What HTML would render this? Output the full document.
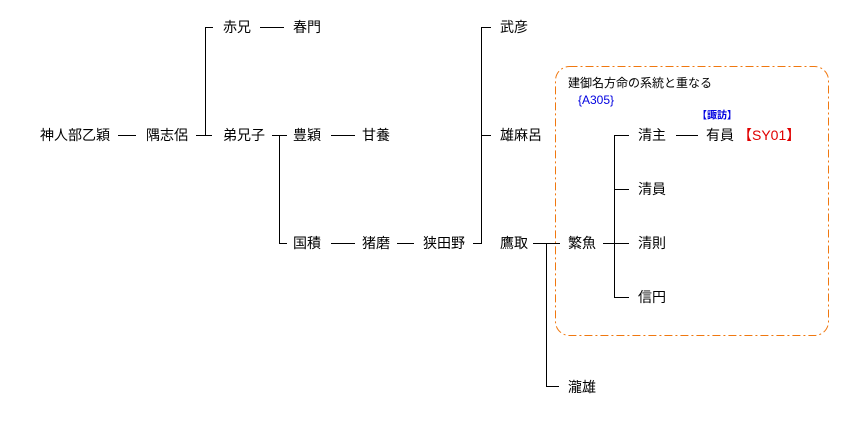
<!DOCTYPE html>
<html><head><meta charset="utf-8"><style>
html,body{margin:0;padding:0;background:#fff;width:848px;height:432px;overflow:hidden}
svg text{font-family:"Liberation Sans","Noto Sans CJK JP",sans-serif;font-size:14px;fill:#000;dominant-baseline:central}
</style></head><body>
<svg width="848" height="432" viewBox="0 0 848 432" xmlns="http://www.w3.org/2000/svg">
<rect x="555.5" y="66.5" width="273" height="269" rx="14" fill="none" stroke="#f07810" stroke-width="1" stroke-dasharray="8,3,2,3"/>
<g stroke="#000" stroke-width="1" fill="none">
<path d="M118 135.5H136"/>
<path d="M196 135.5H212M205.5 135V27.5H213"/>
<path d="M260 27.5H284"/>
<path d="M272 135.5H287M279.5 135V243.5H287"/>
<path d="M331 135.5H355"/>
<path d="M331 243.5H355M397 243.5H414M473 243.5H482"/>
<path d="M481.5 244V27.5H491M481.5 135.5H491"/>
<path d="M533 243.5H560M546.5 243V386.5H559"/>
<path d="M603 243.5H629M614.5 135.5V297.5H629M614 135.5H629M614 189.5H629"/>
<path d="M676 135.5H698"/>
</g>
<text x="40" y="135">神人部乙穎</text>
<text x="146" y="135">隅志侶</text>
<text x="223" y="27">赤兄</text>
<text x="293" y="27">春門</text>
<text x="223" y="135">弟兄子</text>
<text x="293" y="135">豊穎</text>
<text x="362" y="135">甘養</text>
<text x="293" y="243">国積</text>
<text x="362" y="243">猪磨</text>
<text x="423" y="243">狭田野</text>
<text x="500" y="27">武彦</text>
<text x="500" y="135">雄麻呂</text>
<text x="500" y="243">鷹取</text>
<text x="568" y="243">繁魚</text>
<text x="568" y="387">瀧雄</text>
<text x="638" y="135">清主</text>
<text x="638" y="189">清員</text>
<text x="638" y="243">清則</text>
<text x="638" y="297">信円</text>
<text x="706" y="135">有員</text>
<text x="738" y="135" style="fill:#e00000">【SY01】</text>
<text x="697" y="116" style="fill:#0000e0;font-size:10px;font-weight:bold">【諏訪】</text>
<text x="568" y="83" style="font-size:12px">建御名方命の系統と重なる</text>
<text x="578" y="100" style="fill:#0000e0;font-size:12px">{A305}</text>
</svg>
</body></html>
